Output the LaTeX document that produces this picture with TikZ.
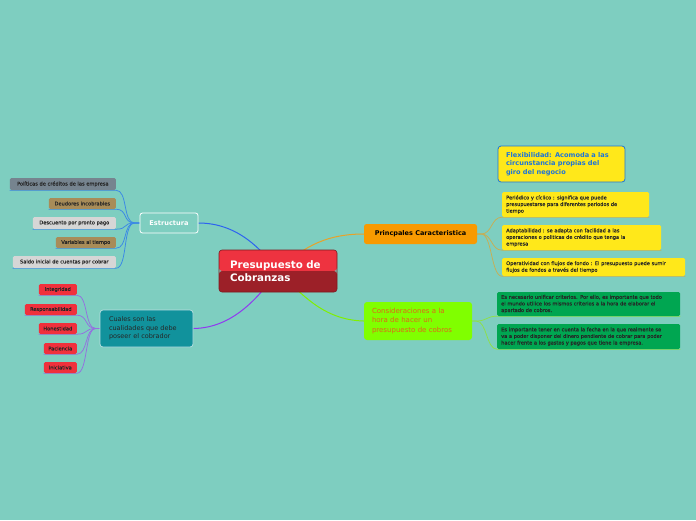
\documentclass[tikz,border=0pt]{standalone}
\usepackage{fontspec}
\setmainfont{DejaVu Sans}
\newfontfamily\leaffont[FakeBold=0.25]{DejaVu Sans}
\definecolor{bgc}{HTML}{7ECEC0}
\definecolor{cred}{HTML}{EE3340}
\definecolor{cdred}{HTML}{9C2028}
\definecolor{cblue}{HTML}{2D62F0}
\definecolor{lblue}{HTML}{3A88E6}
\definecolor{cpurp}{HTML}{9038F0}
\definecolor{lpurp}{HTML}{9470E0}
\definecolor{corange}{HTML}{E8A228}
\definecolor{ctan}{HTML}{C8AE52}
\definecolor{cgreen}{HTML}{80F000}
\definecolor{lgreen}{HTML}{8EE048}
\definecolor{gslate}{HTML}{76848F}
\definecolor{gbrown}{HTML}{A88C58}
\definecolor{glight}{HTML}{D6D6D6}
\definecolor{gred}{HTML}{F0303C}
\definecolor{cteal}{HTML}{11929C}
\definecolor{porange}{HTML}{F89A00}
\definecolor{cyel}{HTML}{FFE81A}
\definecolor{fblue}{HTML}{1E74D8}
\definecolor{clime}{HTML}{80FF00}
\definecolor{ctxt}{HTML}{E0651A}
\definecolor{cgleaf}{HTML}{00A651}
\definecolor{dtext}{HTML}{262626}
\pgfdeclarelayer{bg}
\pgfsetlayers{bg,main}
\tikzset{
  leafl/.style={anchor=east, rounded corners=1.5pt, inner xsep=3pt, inner ysep=0pt, text=dtext, font=\leaffont\fontsize{5.1}{5.5}\selectfont, align=center},
  leafr/.style={anchor=west, rounded corners=1.5pt, inner xsep=4pt, inner ysep=0pt, text=dtext, font=\leaffont\fontsize{5.05}{6.6}\selectfont, align=left},
  mainconn/.style={line width=1pt},
  leafconn/.style={line width=0.75pt},
}
\begin{document}
\begin{tikzpicture}[x=1pt,y=-1pt]
\begin{pgfonlayer}{bg}
\fill[bgc] (0,0) rectangle (696,520);
\end{pgfonlayer}
\useasboundingbox (0,0) rectangle (696,520);

% main nodes
\node[draw=cdred!80!black, line width=0.6pt, rounded corners=3pt, minimum height=42pt, text width=96pt, inner xsep=11pt, inner ysep=0pt, align=left, text=white, font=\fontsize{10.3}{13}\selectfont\bfseries,
  path picture={\fill[cred] (path picture bounding box.north west) rectangle (path picture bounding box.east);
                \fill[cdred] (path picture bounding box.west) rectangle (path picture bounding box.south east);}]
  (root) at (278,271) {Presupuesto de\\Cobranzas};

\node[draw=white, fill=bgc, line width=0.8pt, rounded corners=2.5pt, minimum width=58pt, minimum height=20pt, inner sep=0pt, text=white, font=\fontsize{6.6}{7}\selectfont\bfseries]
  (estr) at (169,223) {Estructura};

\node[draw=white!70!cteal, fill=cteal, line width=0.7pt, rounded corners=3pt, minimum height=37pt, text width=75pt, inner xsep=9pt, inner ysep=0pt, align=left, text=dtext, font=\fontsize{6.5}{8.5}\selectfont]
  (cual) at (146.5,328.5) {Cuales son las\\cualidades que debe\\poseer el cobrador};

\node[fill=porange, rounded corners=2.5pt, minimum width=113pt, minimum height=20pt, inner sep=0pt, text=black, font=\fontsize{6.5}{7}\selectfont\bfseries]
  (prin) at (420.5,234) {Princpales Caracteristica};

\node[fill=clime, rounded corners=3pt, minimum height=38pt, text width=92pt, inner xsep=8pt, inner ysep=0pt, align=left, text=ctxt, font=\fontsize{7}{9.5}\selectfont]
  (cons) at (418,321) {Consideraciones a la\\hora de hacer un\\presupuesto de cobros};

\node[draw=fblue, fill=cyel, line width=0.8pt, rounded corners=3pt, minimum height=36pt, text width=111pt, inner xsep=8pt, inner ysep=0pt, align=left, text=fblue, font=\fontsize{6.6}{8.5}\selectfont\bfseries]
  (flex) at (561.5,164) {Flexibilidad: Acomoda a las\\circunstancia propias del\\giro del negocio};

% left leaves (Estructura)
\node[leafl, fill=gslate, minimum width=106pt, minimum height=12pt] (pol) at (116,184) {Políticas de créditos de las empresa};
\node[leafl, fill=gbrown, minimum width=67pt, minimum height=11pt] (deu) at (116,203.5) {Deudores incobrables};
\node[leafl, fill=glight, minimum width=83pt, minimum height=12pt] (desc) at (116,223) {Descuento por pronto pago};
\node[leafl, fill=gbrown, minimum width=60pt, minimum height=11pt] (vari) at (116,242.5) {Variables al tiempo};
\node[leafl, fill=glight, minimum width=103pt, minimum height=12pt] (sald) at (116,262) {Saldo inicial de cuentas por cobrar};

% red leaves (Cuales)
\node[leafl, fill=gred, minimum width=38pt, minimum height=11pt] (integ) at (77,289.5) {Integridad};
\node[leafl, fill=gred, minimum width=52pt, minimum height=11pt] (resp) at (77,309.5) {Responsabilidad};
\node[leafl, fill=gred, minimum width=38pt, minimum height=11pt] (hone) at (77,328.5) {Honestidad};
\node[leafl, fill=gred, minimum width=33pt, minimum height=11pt] (paci) at (77,348.5) {Paciencia};
\node[leafl, fill=gred, minimum width=33pt, minimum height=11pt] (inic) at (77,367.5) {Iniciativa};

% yellow leaves
\node[leafr, fill=cyel, minimum height=25pt, text width=139pt] (peri) at (502,204.5) {Periódico y cíclico : significa que puede\\presupuestarse para diferentes periodos de\\tiempo};
\node[leafr, fill=cyel, minimum height=25pt, text width=151pt] (adap) at (502,237.5) {Adaptabilidad : se adapta con facilidad a las\\operaciones o politicas de crédito que tenga la\\empresa};
\node[leafr, fill=cyel, minimum height=18pt, text width=175pt] (oper) at (502,267) {Operatividad con flujos de fondo : El presupuesto puede sumir\\flujos de fondos a través del tiempo};

% green leaves
\node[leafr, fill=cgleaf, minimum height=24pt, text width=175pt] (unif) at (497,304) {Es necesario unificar criterios. Por ello, es importante que todo\\el mundo utilice los mismos criterios a la hora de elaborar el\\apartado de cobros.};
\node[leafr, fill=cgleaf, minimum height=25pt, text width=175pt] (fech) at (497,336.5) {Es importante tener en cuenta la fecha en la que realmente se\\va a poder disponer del dinero pendiente de cobrar para poder\\hacer frente a los gastos y pagos que tiene la empresa.};

% connectors (behind nodes)
\begin{pgfonlayer}{bg}
\draw[mainconn, cblue] (estr.east) .. controls (238,223) and (262,250) .. (root.center);
\draw[mainconn, cpurp] (cual.east) .. controls (236,328) and (262,292) .. (root.center);
\draw[mainconn, corange] (prin.west) .. controls (322,234) and (300,250) .. (root.center);
\draw[mainconn, cgreen] (cons.west) .. controls (322,320) and (300,292) .. (root.center);

\foreach \n in {pol,deu,desc,vari,sald}
  \draw[leafconn, lblue] (estr.west) -- +(-5,0) .. controls +(-12,0) and ([xshift=12pt]\n.south east) .. (\n.south east) -- (\n.south west);
\foreach \n in {integ,resp,hone,paci,inic}
  \draw[leafconn, lpurp] (cual.west) -- +(-4,0) .. controls +(-11,0) and ([xshift=11pt]\n.south east) .. (\n.south east) -- (\n.south west);
\foreach \n in {peri,adap,oper}
  \draw[leafconn, ctan] (prin.east) -- +(4,0) .. controls +(11,0) and ([xshift=-11pt]\n.south west) .. (\n.south west) -- (\n.south east);
\foreach \n in {unif,fech}
  \draw[leafconn, lgreen] (cons.east) -- +(4,0) .. controls +(11,0) and ([xshift=-11pt]\n.south west) .. (\n.south west) -- (\n.south east);
\end{pgfonlayer}
\end{tikzpicture}
\end{document}
